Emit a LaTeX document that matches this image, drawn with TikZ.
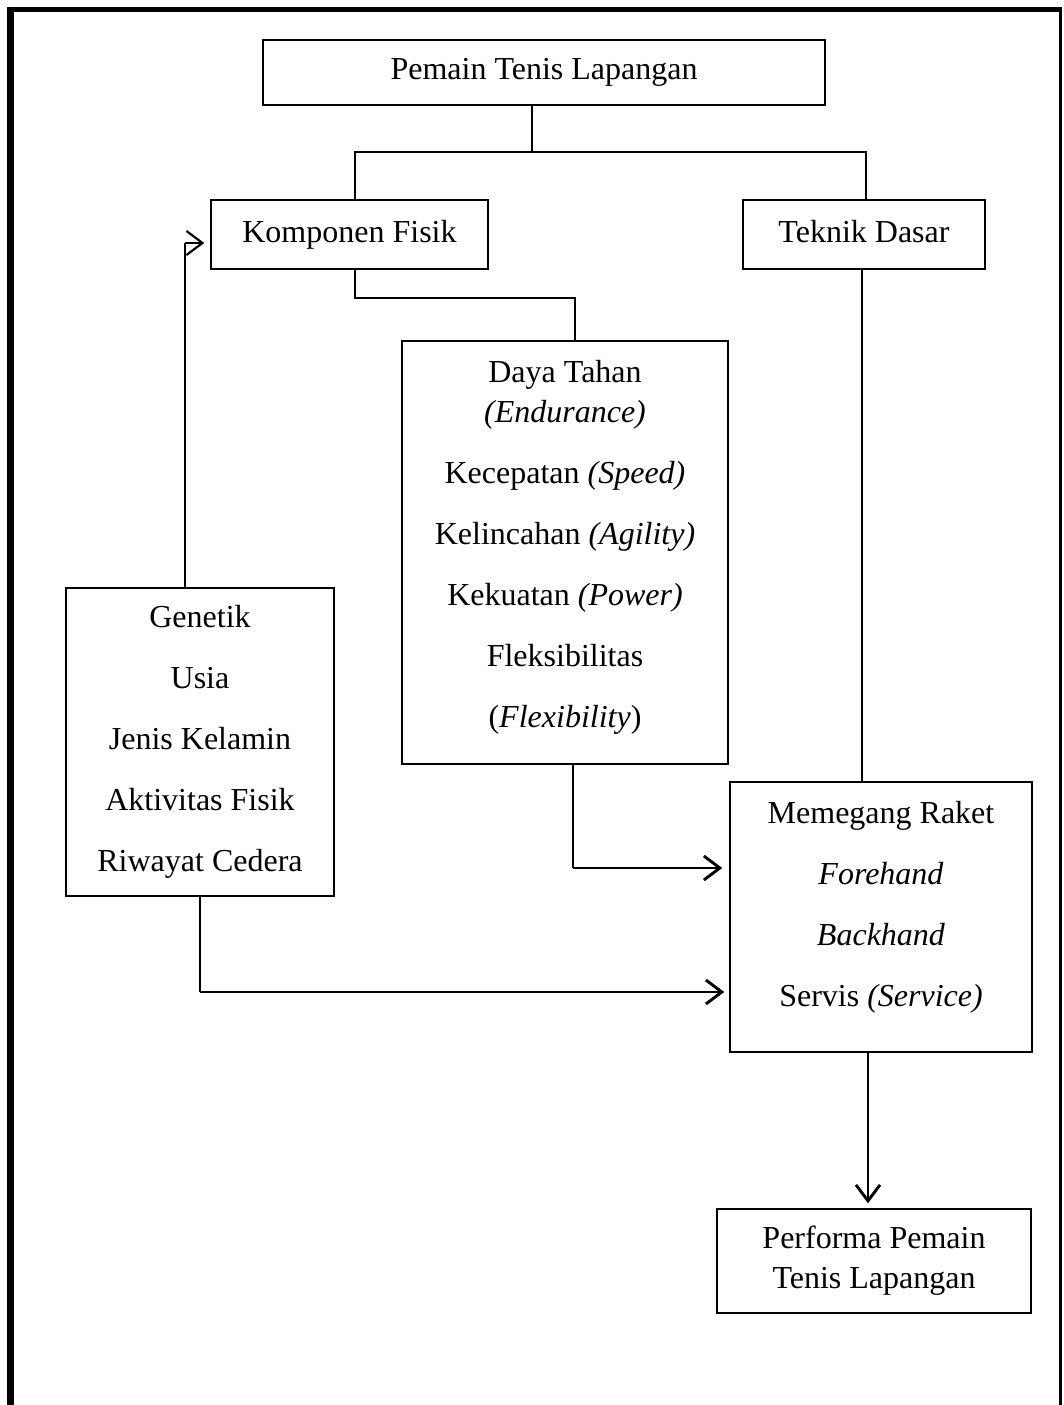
\documentclass[tikz,border=0pt]{standalone}
\usepackage{fontspec}
\setmainfont{Liberation Serif}
\usetikzlibrary{arrows.meta}
\begin{document}
\begin{tikzpicture}[x=1pt,y=-1pt,
  box/.style={draw,line width=1.4pt,inner sep=0pt,align=center,font=\fontsize{32}{61}\selectfont},
  onebox/.style={box,text height=22pt,text depth=7pt},
  txt/.style={inner sep=0pt,align=center,font=\fontsize{32}{61}\selectfont},
  link/.style={line width=1.4pt},
  arr/.style={line width=2.9pt,-{Straight Barb[length=16pt,width=24pt]}}]
\useasboundingbox (0,0) rectangle (1064,1405);
% frame
\fill (7,7) rectangle (14,1405);
\fill (7,7) rectangle (1062,12.5);
\fill (1058.5,7) rectangle (1062,1405);
% boxes
\node[onebox,minimum width=562,minimum height=65] (top) at (544,72.5) {Pemain Tenis Lapangan};
\node[onebox,minimum width=277,minimum height=69] (kf) at (349.5,234.5) {Komponen Fisik};
\node[onebox,minimum width=242,minimum height=69] (td) at (864,234.5) {Teknik Dasar};
\node[box,minimum width=326,minimum height=423] (dt) at (565,552.5) {};
\node[txt] (dtt) at (565,547) {Daya Tahan\\[-21pt] \textit{(Endurance)}\\ Kecepatan \textit{(Speed)}\\ Kelincahan \textit{(Agility)}\\ Kekuatan \textit{(Power)}\\ Fleksibilitas\\ (\textit{Flexibility})};
\node[box,minimum width=268,minimum height=308] (gen) at (200,742) {Genetik\\ Usia\\ Jenis Kelamin\\ Aktivitas Fisik\\ Riwayat Cedera};
\node[box,minimum width=302,minimum height=270] (mr) at (881,917) {};
\node[txt] (mrt) at (881,907.5) {Memegang Raket\\ \textit{Forehand}\\ \textit{Backhand}\\ Servis \textit{(Service)}};
\node[box,minimum width=314,minimum height=104] (pf) at (874,1261) {Performa Pemain\\[-21pt] Tenis Lapangan};
% connectors
\coordinate (j1) at (532,152);
\coordinate (h1) at (355,152);
\coordinate (h2) at (866,152);
\draw[link] (top.south -| j1) -- (j1);
\draw[link] (kf.north -| h1) -- (h1) -- (h2) -- (td.north -| h2);
\coordinate (k1) at (355,298);
\coordinate (k2) at (575,298);
\draw[link] (kf.south -| k1) -- (k1) -- (k2) -- (dt.north -| k2);
\coordinate (t1) at (862,500);
\draw[link] (td.south -| t1) -- (mr.north -| t1);
% arrows
\coordinate (g1) at (185,243);
\draw[link] (gen.north -| g1) -- (g1);
\draw[arr,line width=2.2pt,shorten >=6pt] (g1) -- (kf.west |- g1);
\coordinate (d1) at (573,868);
\draw[link] (dt.south -| d1) -- (d1);
\draw[arr,shorten >=7pt] (d1) -- (mr.west |- d1);
\coordinate (g2) at (200,992);
\draw[link] (gen.south) -- (g2);
\draw[arr,shorten >=5pt] (g2) -- (mr.west |- g2);
\coordinate (m1) at (868,1100);
\draw[arr,shorten >=5pt] (mr.south -| m1) -- (pf.north -| m1);
\end{tikzpicture}
\end{document}
